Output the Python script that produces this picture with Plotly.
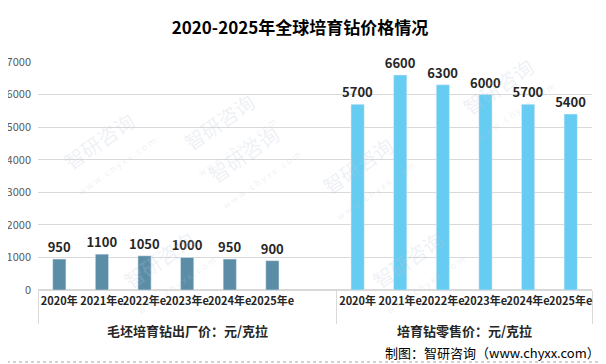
import plotly.graph_objects as go

# ---- data ----
years = ["2020年", "2021年e", "2022年e", "2023年e", "2024年e", "2025年e"]
group_rough = "毛坯培育钻出厂价：元/克拉"
group_retail = "培育钻零售价：元/克拉"
rough_price = [950, 1100, 1050, 1000, 950, 900]
retail_price = [5700, 6600, 6300, 6000, 5700, 5400]
title_text = "2020-2025年全球培育钻价格情况"
source_text = "制图：智研咨询（www.chyxx.com）"

W, H = 606, 364
OFF = 8  # page body margin offset
# plot area in screenshot pixels: x 38..592, y 62..290
L, T = 38 - OFF, 62 - OFF
R, B = W - (592 - OFF), H - (290 - OFF)
PW, PH = W - L - R, H - T - B


def px(x):
    return (x - OFF - L) / PW


def py(y):
    return 1 - (y - OFF - T) / PH


FONT = "Noto Sans CJK SC"

fig = go.Figure()

# group keys on the axis are blank; group names are drawn as larger labels below
key_rough, key_retail = " ", "  "
x_rough = [[key_rough] * 7, years + [" "]]
y_rough = rough_price + [None]
x_retail = [[key_retail] * 6, years]

label_font = dict(family=FONT, size=13, color="#262626", weight="bold")

fig.add_trace(go.Bar(
    x=x_rough, y=y_rough, marker_color="#5B8DA7", name=group_rough,
    text=[str(v) for v in rough_price] + [""], textposition="outside",
    textfont=label_font, constraintext="none",
    cliponaxis=False, showlegend=False,
))
fig.add_trace(go.Bar(
    x=x_retail, y=retail_price, marker_color="#66CCF2", name=group_retail,
    text=[str(v) for v in retail_price], textposition="outside",
    textfont=label_font, constraintext="none",
    cliponaxis=False, showlegend=False,
))

fig.update_layout(
    width=W, height=H,
    margin=dict(l=L, r=R, t=T, b=B),
    paper_bgcolor="white", plot_bgcolor="white",
    bargap=0.69,
    barmode="overlay",
    title=dict(text="<b>" + title_text + "</b>", x=px(300), xanchor="center",
               y=1 - (28 - OFF) / H, yanchor="middle", xref="paper",
               font=dict(family=FONT, size=17, color="#000000")),
    xaxis=dict(
        type="multicategory",
        tickangle=0,
        tickfont=dict(family=FONT, size=11, color="#262626", weight="bold"),
        showgrid=False, showline=False, ticks="",
        ticklabelstandoff=3,
        showdividers=True, dividercolor="#D9D9D9", dividerwidth=1,
        automargin=False,
    ),
    yaxis=dict(
        range=[0, 7000], dtick=1000,
        showgrid=True, gridcolor="#D9D9D9", gridwidth=1,
        zeroline=True, zerolinecolor="#D9D9D9",
        tickfont=dict(family=FONT, size=11, color="#595959"),
        ticks="", ticklabelstandoff=6,
        automargin=False,
    ),
    font=dict(family=FONT),
)

# group labels
for name, cx in [(group_rough, 187), (group_retail, 464)]:
    fig.add_annotation(text="<b>" + name + "</b>", xref="paper", yref="paper",
                       x=px(cx), y=py(330), xanchor="center", yanchor="middle",
                       showarrow=False,
                       font=dict(family=FONT, size=13, color="#262626"))

# outer border
fig.add_shape(type="rect", xref="paper", yref="paper",
              x0=px(1), x1=px(604), y0=py(362), y1=py(1),
              line=dict(color="#A6A6A6", width=1, dash="dot"), layer="below")

# source note
fig.add_annotation(text=source_text, xref="paper", yref="paper",
                   x=px(602), xanchor="right",
                   y=py(352), yanchor="middle",
                   showarrow=False,
                   font=dict(family=FONT, size=13, color="#000000"))

# faint watermarks
wm_positions = [(170, 80), (560, 45), (50, 150), (420, 175), (250, 215), (110, 320), (470, 320)]
for wx, wy in wm_positions:
    fig.add_annotation(text="智研咨询<br><span style='font-size:9px'>w w w . c h y x x . c o m</span>",
                       xref="paper", yref="paper",
                       x=px(wx), y=py(wy),
                       showarrow=False, textangle=-35,
                       font=dict(family=FONT, size=20, color="rgba(190,200,215,0.25)"))

fig.write_html("out.html")
